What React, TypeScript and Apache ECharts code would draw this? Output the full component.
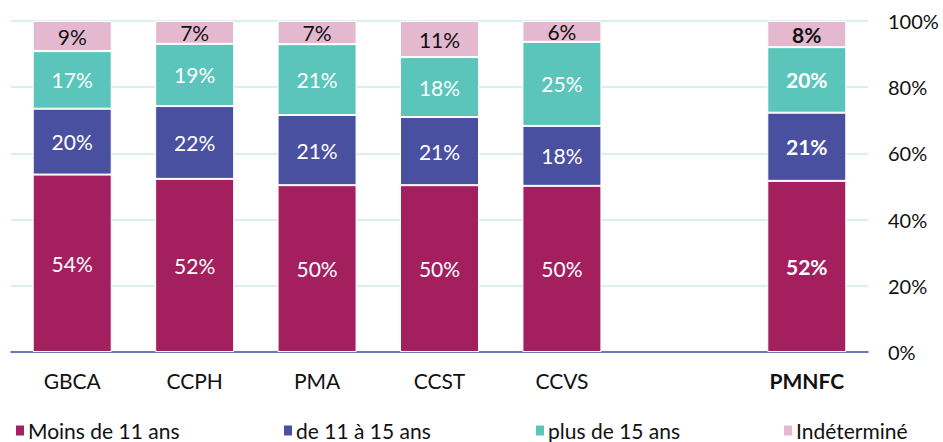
import React, { useEffect, useRef } from "react";
import * as echarts from "echarts";

const categories = ["GBCA", "CCPH", "PMA", "CCST", "CCVS", "", "PMNFC"];
const seriesNames = ["Moins de 11 ans", "de 11 à 15 ans", "plus de 15 ans", "Indéterminé"];
const moins11 = [53.6, 52.3, 50.4, 50.4, 50.2, null, 51.7];
const de11a15 = [19.9, 22.0, 21.2, 20.6, 18.1, null, 20.6];
const plus15 = [17.4, 18.8, 21.4, 18.1, 25.4, null, 19.8];
const indetermine = [9.1, 6.9, 7.0, 10.9, 6.3, null, 7.9];
const yTicks = [0, 20, 40, 60, 80, 100];

const colors = ["#a31f5e", "#4a50a0", "#5cc5bb", "#e4b8cf"];
const labelColors = ["#ffffff", "#ffffff", "#ffffff", "#111111"];
const boldIndex = 6;
const FONT = "Lato";

export default function App() {
  const ref = useRef<HTMLDivElement>(null);
  useEffect(() => {
    document.body.style.margin = "0";
    if (!ref.current) return;
    const chart = echarts.init(ref.current, null, { renderer: "svg" });
    const allData = [moins11, de11a15, plus15, indetermine];
    const legendLefts = [14, 282, 534, 782];
    chart.setOption({
      animation: false,
      textStyle: { fontFamily: FONT },
      grid: { left: 11, right: 75, top: 21, bottom: 90, containLabel: false },
      legend: seriesNames.map((n, i) => ({
        data: [n],
        left: legendLefts[i],
        top: 420,
        icon: "rect",
        itemWidth: 10,
        itemHeight: 12,
        itemGap: 4,
        textStyle: { fontFamily: FONT, fontSize: 21, color: "#111", padding: [0, 0, 0, -2] },
        padding: 0,
        selectedMode: false,
      })),
      xAxis: {
        type: "category",
        data: categories,
        axisLine: { show: true, lineStyle: { color: "#4a50a0", width: 1.5 } },
        axisTick: { show: false },
        axisLabel: {
          margin: 18,
          fontSize: 21,
          color: "#111",
          fontFamily: FONT,
          interval: 0,
          formatter: (v: string, idx: number) => (idx === boldIndex ? `{b|${v}}` : v),
          rich: { b: { fontWeight: "bold", fontSize: 21, fontFamily: FONT, color: "#111" } },
        },
      },
      yAxis: {
        type: "value",
        position: "right",
        min: yTicks[0],
        max: yTicks[yTicks.length - 1],
        interval: 20,
        axisLine: { show: false },
        axisTick: { show: false },
        splitLine: { show: true, lineStyle: { color: "#c9ecea", width: 1.5 } },
        axisLabel: {
          margin: 20,
          fontSize: 20,
          color: "#111",
          fontFamily: FONT,
          formatter: (v: number) => `${v}%`,
        },
      },
      series: seriesNames.map((name, si) => ({
        name,
        type: "bar",
        stack: "total",
        barWidth: 79,
        itemStyle: { color: colors[si], borderColor: "#ffffff", borderWidth: 1 },
        label: {
          show: true,
          position: "inside",
          color: labelColors[si],
          fontSize: 21,
          fontFamily: FONT,
          formatter: (p: any) => `${Math.round(p.value)}%`,
        },
        data: allData[si].map((v, i) =>
          i === boldIndex
            ? { value: v, label: { fontWeight: "bold" } }
            : v
        ),
      })),
    });
    return () => chart.dispose();
  }, []);
  return <div ref={ref} style={{ width: 943, height: 442 }} />;
}
